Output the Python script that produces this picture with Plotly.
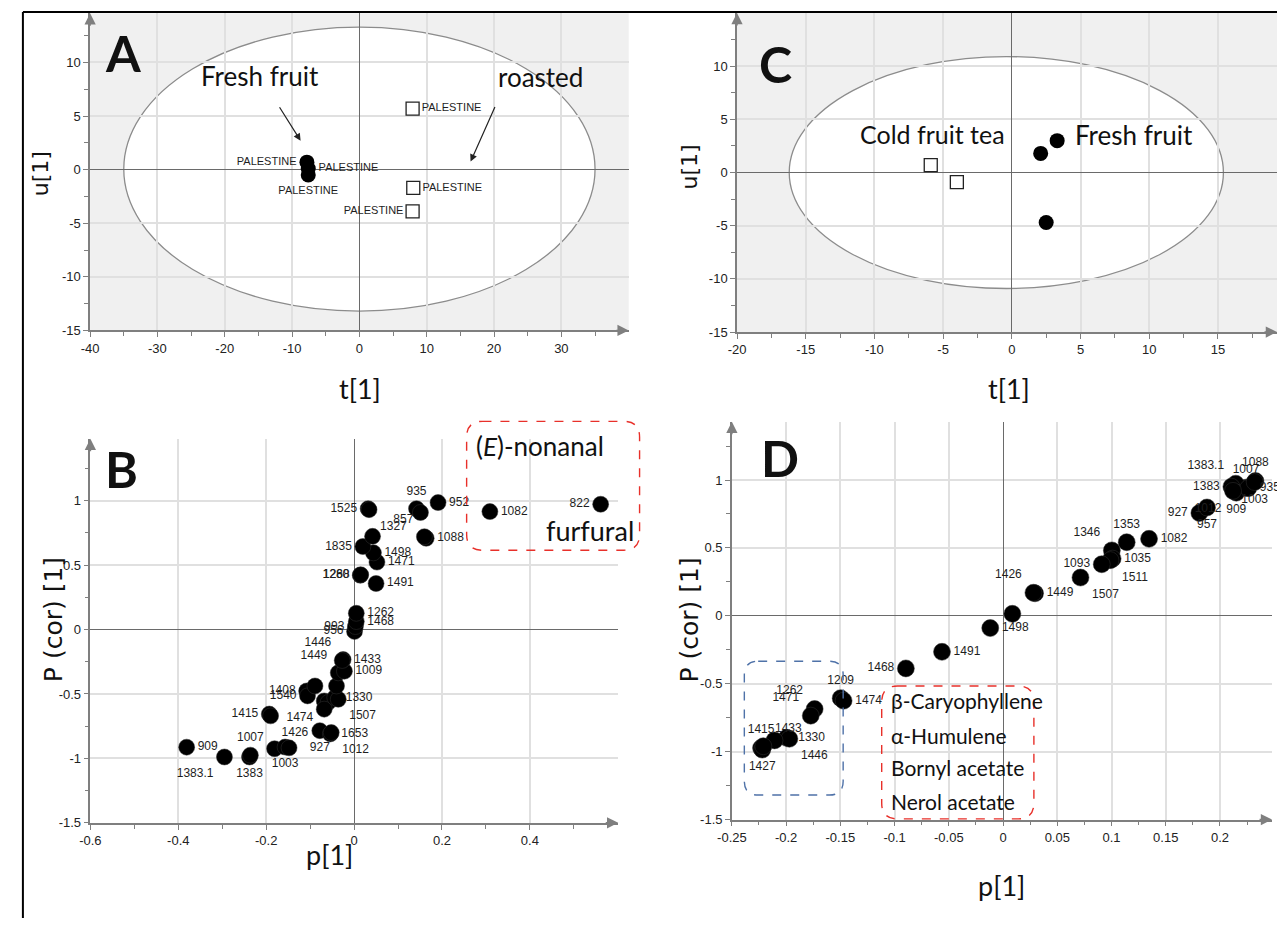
import numpy as np
import plotly.graph_objects as go

# ---------------- data ----------------
# Panel A : score plot, fresh fruit vs roasted
a_fresh_t = [-7.8, -7.6, -7.6]
a_fresh_u = [0.7, 0.1, -0.5]
a_fresh_lab = ["PALESTINE", "PALESTINE", "PALESTINE"]
a_roast_t = [7.9, 8.0, 7.9]
a_roast_u = [5.7, -1.7, -3.9]
a_roast_lab = ["PALESTINE", "PALESTINE", "PALESTINE"]
a_ellipse_t = [-35.0, 35.0]
a_ellipse_u = [-13.2, 13.3]

# Panel C : score plot, cold fruit tea vs fresh fruit
c_fresh_t = [2.1, 3.3, 2.5]
c_fresh_u = [1.8, 3.0, -4.7]
c_tea_t = [-5.9, -4.0]
c_tea_u = [0.7, -0.9]
c_ellipse_t = [-16.2, 15.4]
c_ellipse_u = [-10.9, 10.9]

# Panel B : S-plot loadings
b_p = [-0.381, -0.295, -0.238, -0.236, -0.181, -0.157, -0.148, -0.193, -0.190,
       -0.108, -0.106, -0.089, -0.068, -0.059, -0.068, -0.044, -0.036, -0.040,
       -0.078, -0.054, -0.052, -0.036, -0.022, -0.025, -0.027, 0.001, 0.003,
       0.005, 0.005, 0.014, 0.015, 0.050, 0.052, 0.044, 0.020, 0.042, 0.032,
       0.034, 0.142, 0.151, 0.191, 0.164, 0.160, 0.309, 0.561]
b_pcor = [-0.913, -0.989, -0.989, -0.975, -0.925, -0.912, -0.918, -0.656, -0.670,
          -0.477, -0.515, -0.438, -0.554, -0.566, -0.618, -0.528, -0.541, -0.438,
          -0.785, -0.810, -0.800, -0.336, -0.323, -0.233, -0.240, -0.015, 0.023,
          0.062, 0.126, 0.421, 0.425, 0.357, 0.523, 0.595, 0.644, 0.723, 0.938,
          0.930, 0.938, 0.908, 0.985, 0.708, 0.720, 0.915, 0.972]
b_lab = ["909", "1383.1", "1383", "1007", "", "1003", "", "1415", "1426",
         "1408", "1540", "", "1474", "", "", "1330", "1507", "",
         "927", "1653", "1012", "1449", "1009", "1433", "1446", "956", "993",
         "1468", "1262", "1280", "1268", "1491", "1471", "1498", "1835", "", "1525",
         "1327", "935", "", "952", "1088", "857", "1082", "822"]

# Panel D : S-plot loadings
d_p = [0.2327, 0.224, 0.2145, 0.2105, 0.215, 0.226, 0.232, 0.212, 0.181, 0.188,
       0.1346, 0.114, 0.1003, 0.101, 0.099, 0.091, 0.0714, 0.0295, 0.028, 0.0086,
       -0.0118, -0.0563, -0.0896, -0.1497, -0.147, -0.1737, -0.1773, -0.1995,
       -0.197, -0.2107, -0.2231, -0.222, -0.221]
d_pcor = [0.993, 0.944, 0.973, 0.951, 0.907, 0.940, 0.985, 0.920, 0.757, 0.798,
          0.567, 0.542, 0.482, 0.421, 0.410, 0.380, 0.282, 0.166, 0.170, 0.015,
          -0.090, -0.265, -0.387, -0.606, -0.625, -0.686, -0.735, -0.898,
          -0.905, -0.917, -0.973, -0.985, -0.960]
d_lab = ["1088", "1007", "1383.1", "1383", "909", "935", "1003", "1012", "927", "957",
         "1082", "1353", "1346", "1035", "1511", "1093", "1507", "1449", "1426", "",
         "1498", "1491", "1468", "1209", "1474", "1262", "1471", "1330",
         "1446", "", "1415", "1427", "1433"]

# tick labels
a_xticks = [-40, -30, -20, -10, 0, 10, 20, 30]
a_xtext = ["-40", "-30", "-20", "-10", "0", "10", "20", "30"]
a_yticks = [-15, -10, -5, 0, 5, 10]
a_ytext = ["-15", "-10", "-5", "0", "5", "10"]
c_xticks = [-20, -15, -10, -5, 0, 5, 10, 15]
c_xtext = ["-20", "-15", "-10", "-5", "0", "5", "10", "15"]
c_yticks = [-15, -10, -5, 0, 5, 10]
c_ytext = ["-15", "-10", "-5", "0", "5", "10"]
b_xticks = [-0.6, -0.4, -0.2, 0, 0.2, 0.4]
b_xtext = ["-0.6", "-0.4", "-0.2", "0", "0.2", "0.4"]
s_yticks = [-1.5, -1, -0.5, 0, 0.5, 1]
s_ytext = ["-1.5", "-1", "-0.5", "0", "0.5", "1"]
d_xticks = [-0.25, -0.2, -0.15, -0.1, -0.05, 0, 0.05, 0.1, 0.15, 0.2]
d_xtext = ["-0.25", "-0.2", "-0.15", "-0.1", "-0.05", "0", "0.05", "0.1", "0.15", "0.2"]

# ---------------- styling / layout helpers ----------------
W, H = 1277, 926
def fx(p):
    return p / W
def fy(p):
    return 1 - p / H

SMALL = "Liberation Sans, Arial, sans-serif"
BIG = "Lato, Liberation Sans, sans-serif"
VERD = "DejaVu Sans, Verdana, sans-serif"
AX = "#7f7f7f"
GRID = "#e0e0e0"
ZERO = "#6a6a6a"
LABC = "#1e1e1e"

b_pos = ["middle right", "bottom left", "bottom center", "top center", "middle right",
         "bottom center", "middle right", "middle left", "bottom right",
         "middle left", "middle left", "middle right", "bottom left", "middle right",
         "middle right", "middle right", "bottom right", "middle right",
         "bottom center", "middle right", "bottom right", "top left", "middle right",
         "middle right", "top left", "middle left", "middle left",
         "middle right", "middle right", "middle left", "middle left", "middle right",
         "middle right", "middle right", "middle left", "middle right", "middle left",
         "bottom right", "top center", "middle right", "middle right", "middle right",
         "top left", "middle right", "middle left"]
d_pos = ["top center", "top center", "top left", "middle left", "bottom center",
         "middle right", "bottom center", "bottom left", "middle left", "bottom center",
         "middle right", "top center", "top left", "middle right", "bottom right",
         "middle left", "bottom right", "middle right", "top left", "middle right",
         "middle right", "middle right", "middle left", "top center", "middle right",
         "top left", "top left", "middle right", "bottom right", "middle right",
         "top center", "bottom center", "top right"]

fig = go.Figure()

# A
fig.add_trace(go.Scatter(x=a_fresh_t, y=a_fresh_u, mode="markers+text", text=a_fresh_lab,
                         textposition=["middle left", "middle right", "bottom center"],
                         textfont=dict(family=SMALL, size=11, color=LABC),
                         marker=dict(size=15, color="black"), xaxis="x", yaxis="y",
                         cliponaxis=False))
fig.add_trace(go.Scatter(x=a_roast_t, y=a_roast_u, mode="markers+text", text=a_roast_lab,
                         textposition=["middle right", "middle right", "middle left"],
                         textfont=dict(family=SMALL, size=11, color=LABC),
                         marker=dict(size=13, symbol="square-open", color="#222",
                                     line=dict(width=1.3)),
                         xaxis="x", yaxis="y", cliponaxis=False))
# C
fig.add_trace(go.Scatter(x=c_fresh_t, y=c_fresh_u, mode="markers",
                         marker=dict(size=15, color="black"), xaxis="x2", yaxis="y2"))
fig.add_trace(go.Scatter(x=c_tea_t, y=c_tea_u, mode="markers",
                         marker=dict(size=13, symbol="square-open", color="#222",
                                     line=dict(width=1.3)),
                         xaxis="x2", yaxis="y2"))
# B
fig.add_trace(go.Scatter(x=b_p, y=b_pcor, mode="markers+text", text=b_lab, textposition=b_pos,
                         textfont=dict(family=SMALL, size=12, color=LABC),
                         marker=dict(size=16, color="black", line=dict(width=0.5, color="#333")),
                         xaxis="x3", yaxis="y3", cliponaxis=False))
# D
fig.add_trace(go.Scatter(x=d_p, y=d_pcor, mode="markers+text", text=d_lab, textposition=d_pos,
                         textfont=dict(family=SMALL, size=12, color=LABC),
                         marker=dict(size=17, color="black", line=dict(width=0.5, color="#333")),
                         xaxis="x4", yaxis="y4", cliponaxis=False))


def axis(domain, rng, tv, tt, minor_vals, anchor):
    return dict(domain=domain, range=rng, tickmode="array", tickvals=tv, ticktext=tt,
                showline=True, linecolor=AX, linewidth=1.5, ticks="outside", ticklen=5,
                tickcolor=AX, tickwidth=1.2, showgrid=True, gridcolor=GRID, gridwidth=1.5,
                zeroline=True, zerolinecolor=ZERO, zerolinewidth=1.3,
                tickfont=dict(family=SMALL, size=13, color="#222"),
                minor=dict(tickmode="array", tickvals=minor_vals, ticks="outside", ticklen=4,
                           tickcolor=AX, showgrid=False),
                anchor=anchor, fixedrange=True)

fig.update_layout(
    xaxis=axis([fx(76), fx(621)], [-40, 40], a_xticks, a_xtext, list(np.arange(-35, 40, 10)), "y"),
    yaxis=axis([fy(333.3), fy(13.3)], [-15, 14.6], a_yticks, a_ytext, list(np.arange(-12.5, 14, 5)), "x"),
    xaxis2=axis([fx(730.6), 1.0], [-20, 19.3], c_xticks, c_xtext, list(np.arange(-17.5, 19, 5)), "y2"),
    yaxis2=axis([fy(335), fy(13.1)], [-15, 15], c_yticks, c_ytext, list(np.arange(-12.5, 14, 5)), "x2"),
    xaxis3=axis([fx(76.3), fx(610.4)], [-0.6, 0.601], b_xticks, b_xtext, list(np.arange(-0.5, 0.6, 0.2)), "y3"),
    yaxis3=axis([fy(830), fy(442.6)], [-1.5, 1.48], s_yticks, s_ytext, list(np.arange(-1.25, 1.4, 0.5)), "x3"),
    xaxis4=axis([fx(725.4), fx(1272)], [-0.25, 0.248], d_xticks, d_xtext, list(np.arange(-0.225, 0.24, 0.05)), "y4"),
    yaxis4=axis([fy(826.7), fy(425.3)], [-1.5, 1.43], s_yticks, s_ytext, list(np.arange(-1.25, 1.4, 0.5)), "x4"),
)

shapes = []
# grey background + white ellipse for the score plots
for xr, yr, et, eu in [("x", "y", a_ellipse_t, a_ellipse_u), ("x2", "y2", c_ellipse_t, c_ellipse_u)]:
    shapes.append(dict(type="rect", xref=xr + " domain", yref=yr + " domain", x0=0, x1=1, y0=0, y1=1,
                       fillcolor="#f0f0f0", line=dict(width=0), layer="below"))
    shapes.append(dict(type="circle", xref=xr, yref=yr, x0=et[0], x1=et[1], y0=eu[0], y1=eu[1],
                       fillcolor="white", line=dict(color="#8c8c8c", width=1.3), layer="below"))


def rrect(x0, y0, x1, y1, r):
    rx, ry = r / W, r / H
    X0, X1 = fx(x0), fx(x1)
    Y0, Y1 = fy(y0), fy(y1)  # Y0 top, Y1 bottom
    return (f"M {X0+rx},{Y0} L {X1-rx},{Y0} Q {X1},{Y0} {X1},{Y0-ry} "
            f"L {X1},{Y1+ry} Q {X1},{Y1} {X1-rx},{Y1} L {X0+rx},{Y1} "
            f"Q {X0},{Y1} {X0},{Y1+ry} L {X0},{Y0-ry} Q {X0},{Y0} {X0+rx},{Y0} Z")

shapes.append(dict(type="path", xref="paper", yref="paper", path=rrect(457, 425, 632, 555, 16),
                   line=dict(color="#e8302a", width=1.4, dash="dash")))
shapes.append(dict(type="path", xref="paper", yref="paper", path=rrect(738, 667, 838, 802, 14),
                   line=dict(color="#4f72a8", width=1.4, dash="dash")))
shapes.append(dict(type="path", xref="paper", yref="paper", path=rrect(877, 692, 1031, 826, 16),
                   line=dict(color="#e8302a", width=1.4, dash="dash")))
# frame lines
shapes.append(dict(type="line", xref="paper", yref="paper", x0=fx(8), x1=1, y0=fy(12), y1=fy(12),
                   line=dict(color="black", width=2)))
shapes.append(dict(type="line", xref="paper", yref="paper", x0=fx(8), x1=fx(8), y0=fy(12), y1=0,
                   line=dict(color="black", width=2)))

ann = []
def txt(x, y, s, size, family=BIG, color="#111", angle=0, bold=False):
    ann.append(dict(x=fx(x), y=fy(y), xref="paper", yref="paper", text=("<b>%s</b>" % s) if bold else s,
                    showarrow=False, xanchor="center", yanchor="middle", textangle=angle,
                    font=dict(family=family, size=size, color=color)))

# panel letters
txt(109, 53, "A", 50, bold=True)
txt(108, 473, "B", 50, bold=True)
txt(770, 65, "C", 50, bold=True)
txt(774, 462, "D", 50, bold=True)
# group labels
txt(248, 77, "Fresh fruit", 26)
txt(532, 78, "roasted", 26)
txt(928, 135, "Cold fruit tea", 25)
txt(1132, 136, "Fresh fruit", 26)
txt(531, 450, "(<i>E</i>)-nonanal", 26)
txt(582, 535, "furfural", 27)
for yy, s in [(707, "β-Caryophyllene"), (742, "α-Humulene"), (774, "Bornyl acetate"), (808, "Nerol acetate")]:
    ann.append(dict(x=fx(884), y=fy(yy), xref="paper", yref="paper", text=s, showarrow=False,
                    xanchor="left", yanchor="middle", font=dict(family=BIG, size=21, color="#111")))
# axis titles
txt(349, 392, "t[1]", 27)
txt(1006, 392, "t[1]", 27)
txt(318, 862, "p[1]", 27)
txt(998, 893, "p[1]", 27)
txt(26, 175, "u[1]", 22, family=VERD, angle=-90)
txt(683, 168, "u[1]", 22, family=VERD, angle=-90)
txt(39, 625, "P (cor) [1]", 25, family=VERD, angle=-90)
txt(683, 625, "P (cor) [1]", 25, family=VERD, angle=-90)

# pointing arrows in A
ann.append(dict(x=fx(289), y=fy(142), xref="paper", yref="paper", ax=267 - 289, ay=107 - 142,
                text="", showarrow=True, arrowhead=2, arrowsize=1.2, arrowwidth=1.2, arrowcolor="#222"))
ann.append(dict(x=fx(461), y=fy(163), xref="paper", yref="paper", ax=486 - 461, ay=107 - 163,
                text="", showarrow=True, arrowhead=2, arrowsize=1.2, arrowwidth=1.2, arrowcolor="#222"))

# axis-end arrowheads
for xr, yr, xe, ye, x0, y0 in [("x", "y", 40, -15, -40, 14.6), ("x2", "y2", 19.3, -15, -20, 15),
                               ("x3", "y3", 0.601, -1.5, -0.6, 1.48), ("x4", "y4", 0.248, -1.5, -0.25, 1.43)]:
    ann.append(dict(x=xe, y=ye, xref=xr, yref=yr, ax=-14, ay=0, text="", showarrow=True,
                    arrowhead=2, arrowsize=1.5, arrowwidth=1.5, arrowcolor=AX))
    ann.append(dict(x=x0, y=y0, xref=xr, yref=yr, ax=0, ay=14, text="", showarrow=True,
                    arrowhead=2, arrowsize=1.5, arrowwidth=1.5, arrowcolor=AX))

fig.update_layout(width=W, height=H, margin=dict(l=0, r=0, t=0, b=0), showlegend=False,
                  paper_bgcolor="white", plot_bgcolor="white", shapes=shapes, annotations=ann)

fig.write_html("out.html", config={"displayModeBar": False},
               post_script="document.body.style.margin='0';document.body.style.overflow='hidden';")
